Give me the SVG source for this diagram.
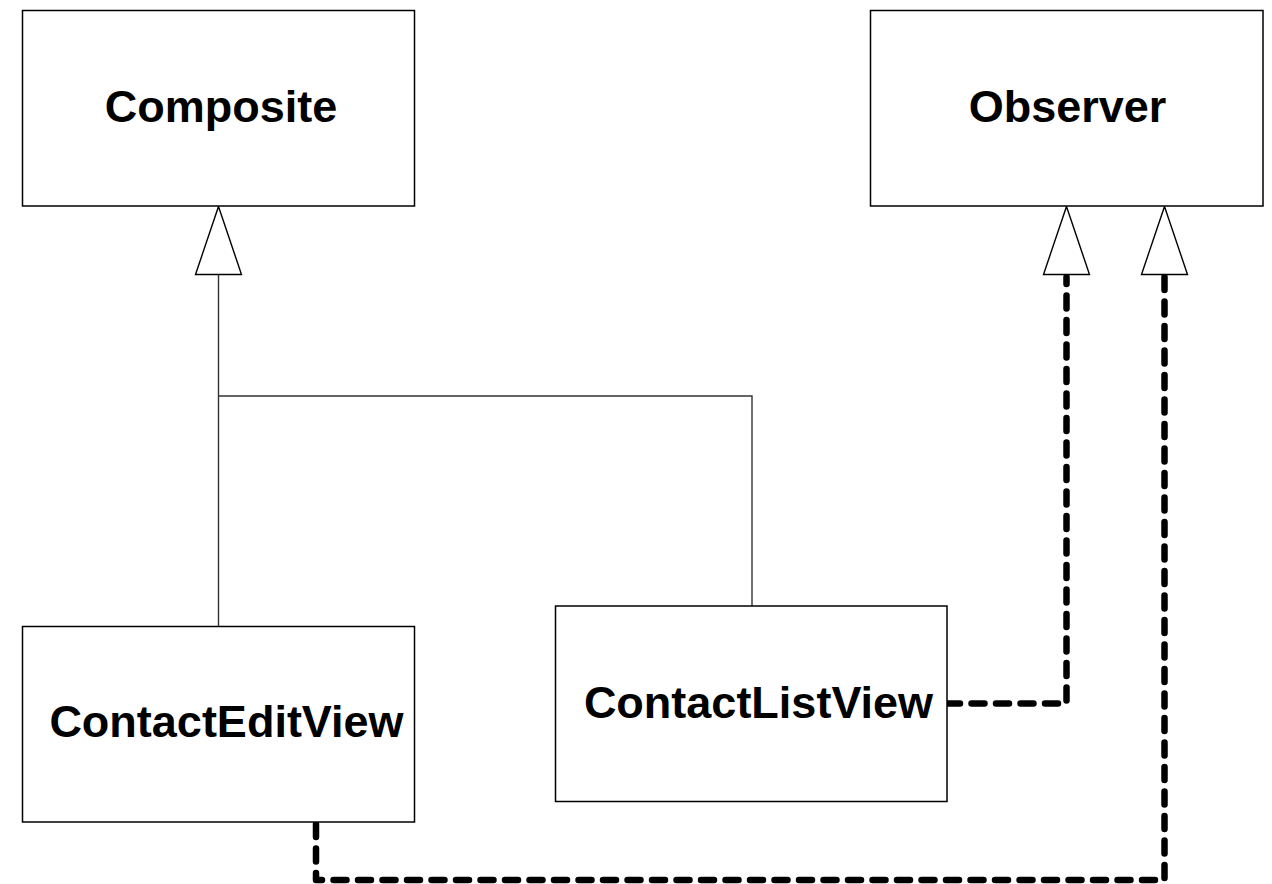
<svg xmlns="http://www.w3.org/2000/svg" width="1272" height="884" viewBox="0 0 1272 884">
  <style>
    .box { fill: #ffffff; stroke: #000000; stroke-width: 1.5; }
    .label { font-family: "Liberation Sans", Arial, sans-serif; font-weight: bold; font-size: 45px; fill: #000000; }
    .solid { fill: none; stroke: #333333; stroke-width: 1.4; }
    .dashed { fill: none; stroke: #000000; stroke-width: 6.5; stroke-dasharray: 13 11.5; stroke-linecap: round; stroke-linejoin: round; }
    .head { fill: #ffffff; stroke: #000000; stroke-width: 1.4; }
  </style>

  <g id="connectors">
    <!-- generalization: ContactEditView / ContactListView -> Composite -->
    <path class="solid" d="M218.5 274.5 V626.5 M218.5 396 H752 V606"/>
    <polygon class="head" points="218.5,206.5 241.5,274.5 195.5,274.5"/>
    <!-- realization: ContactListView -> Observer -->
    <path class="dashed" d="M947 703.5 H1066.5 V277"/>
    <polygon class="head" points="1066.5,206.5 1089.5,274.5 1043.5,274.5"/>
    <!-- realization: ContactEditView -> Observer -->
    <path class="dashed" d="M316 824 V880 H1164.5 V277"/>
    <polygon class="head" points="1164.5,206.5 1187.5,274.5 1141.5,274.5"/>
  </g>

  <g id="composite">
    <rect class="box" x="22.5" y="10.5" width="392" height="195.5"/>
    <text class="label" x="221" y="122" text-anchor="middle">Composite</text>
  </g>

  <g id="observer">
    <rect class="box" x="870.5" y="10.5" width="392.5" height="195.5"/>
    <text class="label" x="1067.5" y="122" text-anchor="middle">Observer</text>
  </g>

  <g id="contact-edit-view">
    <rect class="box" x="22.5" y="626.5" width="392" height="195.5"/>
    <text class="label" x="226.5" y="737" text-anchor="middle">ContactEditView</text>
  </g>

  <g id="contact-list-view">
    <rect class="box" x="555.5" y="606" width="391.5" height="195.5"/>
    <text class="label" x="758.5" y="718" text-anchor="middle">ContactListView</text>
  </g>
</svg>
